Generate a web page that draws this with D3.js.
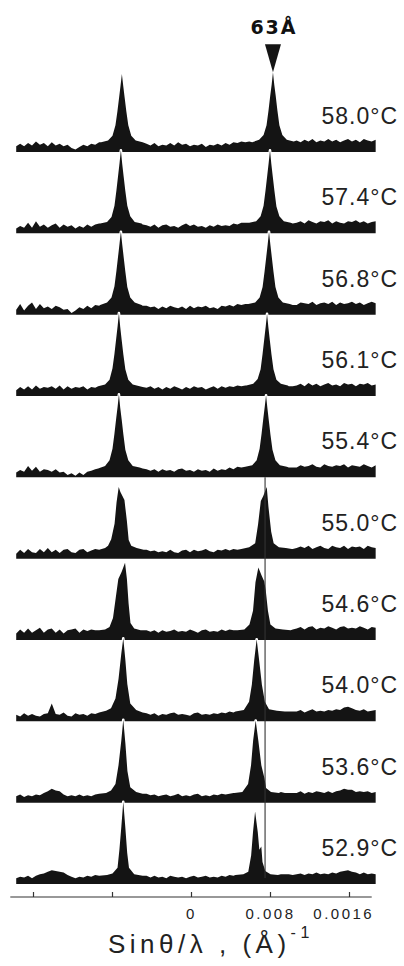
<!DOCTYPE html>
<html>
<head>
<meta charset="utf-8">
<script src="https://cdn.jsdelivr.net/npm/d3@7"></script>
<style>
  body { margin: 0; background: #fff; }
  svg { display: block; }
  .temp { font-family: "Liberation Sans", Arial, sans-serif; font-size: 23px; letter-spacing: 1px; fill: #222; }
  .marker-label { font-family: "DejaVu Sans", sans-serif; font-weight: bold; font-size: 19px; letter-spacing: 2px; fill: #111; }
  .x.axis text { font-family: "Liberation Sans", Arial, sans-serif; font-size: 15px; letter-spacing: 2.5px; fill: #222; }
  .x.axis line { stroke: #333; stroke-width: 1.2; }
  .axis-title { font-family: "Liberation Sans", Arial, sans-serif; font-size: 26px; letter-spacing: 4.5px; fill: #222; }
</style>
</head>
<body>
<div id="chart"></div>
<script>
/* scattering profiles, one row per temperature; q in units of 1e-4 (1/A) */
var temps = ["58.0°C", "57.4°C", "56.8°C", "56.1°C", "55.4°C", "55.0°C", "54.6°C", "54.0°C", "53.6°C", "52.9°C"];

// axis ticks as printed on the figure
var tickVals = [-160, -80, 0, 80, 160];
var tickLabels = ["", "", "0", "0.008", "0.0016"];
var axisExtent = [-183, 183];

// 63 A reflection marker and the reference line drawn through the lower rows
var markerLabel = "63Å";
var markerRow = 0;
var refLineQ = 75;
var refLineRows = [4, 9];

// background sampled every 4 units from -177 to 187
var qGrid = d3.range(-177, 188, 4);

var band58_0 = [7,10,7,11,8,13,9,11,7,12,8,10,7,9,5,3,6,9,7,10,9,12, 12,12,13,13,14,14,13,13,12,12,11, 10,8,11,7,9,8,11,8,12,9,10,7,9,8,10,6,9,8,10,8,11,9,12,11,13, 12,13,13,14,14,15,15,15,14,14,13,13,13, 14,12,15,13,16,12,14,13,16,13,15,12,14,16,13,15,12,16,14,13,15];
var band57_4 = [6,9,7,13,7,15,8,11,7,10,12,7,11,8,10,6,9,7,11,8,11,12, 12,13,13,14,14,14,13,13,12,12,11, 10,8,11,7,10,11,8,9,7,10,12,9,11,8,9,7,10,8,11,9,10,9,12,11,13, 13,13,14,14,15,15,15,15,14,14,13,13,12, 13,15,12,16,14,12,15,14,16,12,15,13,12,15,14,16,13,15,12,14,15];
var band56_8 = [6,13,5,11,15,7,13,8,10,7,11,9,6,7,2,5,9,7,11,8,12,11, 12,12,13,14,14,14,13,13,12,12,11, 11,9,10,7,10,8,11,9,8,10,7,11,8,10,9,11,8,9,7,11,10,12,10,13,12, 13,14,14,15,15,15,15,14,14,13,13,13,12, 12,15,14,13,16,12,14,15,13,16,12,15,13,14,16,13,15,12,14,16,14];
var band56_1 = [7,11,8,12,8,13,9,11,10,12,9,13,8,12,9,11,10,12,8,11,10,13, 12,13,13,14,14,14,13,13,12,11,11, 10,12,9,11,8,11,9,12,10,8,11,9,12,10,11,8,10,12,9,12,10,12,11,13,12, 13,13,14,14,15,15,15,14,14,13,13,12,12, 13,15,12,16,13,15,12,14,16,13,14,12,16,14,15,12,15,14,16,13,14];
var band55_4 = [6,9,7,14,8,13,7,10,9,7,10,6,7,3,5,2,6,3,7,8,10,11, 12,12,13,14,14,14,13,13,12,12,11, 10,8,10,7,10,8,9,7,10,11,8,9,7,10,8,9,7,11,8,10,9,12,10,13,12, 13,13,14,14,15,15,15,14,14,13,13,12,12, 12,15,13,14,16,13,12,16,14,13,15,14,16,12,15,14,13,16,14,12,15];
var band55_0 = [6,11,7,12,8,7,12,8,13,8,11,7,11,12,8,7,11,12,8,10,12,11, 12,12,13,13,14,14,13,13,12,12,11, 11,9,10,8,9,8,11,8,7,10,11,8,11,9,10,12,9,8,11,10,12,10,12,11,13, 13,13,14,14,15,15,14,14,13,13,13,12,12, 13,15,13,16,12,14,16,13,12,16,14,13,16,12,15,14,15,12,16,14,13];
var band54_6 = [8,13,9,14,9,12,15,9,13,14,9,13,8,12,13,14,9,13,11,13,12,14, 13,13,14,14,15,15,14,14,13,13,12, 12,10,12,9,12,10,11,13,10,11,10,13,11,9,12,13,10,11,10,13,11,13,12,14,13, 13,14,14,15,15,15,15,14,14,14,13,13,13, 14,16,13,16,17,13,15,14,17,15,13,16,17,14,15,14,17,15,13,16,15];
var band54_0 = [8,6,10,7,9,7,6,9,10,22,9,8,11,7,6,10,8,9,7,10,9,12, 12,12,13,13,14,14,13,13,12,12,11, 10,8,10,7,9,8,10,11,8,9,8,7,10,11,8,9,8,10,9,11,10,12,11,12,13, 12,13,13,14,14,14,14,14,13,13,13,12,12, 12,14,11,13,15,12,13,12,14,13,15,14,17,18,16,14,13,15,12,13,14];
var band53_6 = [8,10,7,9,8,10,9,12,14,17,15,14,10,8,9,8,10,8,9,8,10,12, 12,12,13,13,14,14,13,13,12,12,11, 11,9,10,8,9,10,8,9,11,8,9,8,10,11,8,9,8,10,9,11,10,11,12,12,13, 12,13,13,14,14,14,14,14,13,13,12,12,12, 12,14,11,13,12,14,13,12,14,12,14,15,17,16,16,13,14,13,14,12,13];
var band52_9 = [7,9,8,10,7,10,12,13,15,17,16,15,14,11,9,7,9,8,10,9,11,12, 11,12,12,13,13,13,13,12,12,11,11, 10,8,10,8,9,7,10,9,8,9,7,9,10,8,9,10,8,9,8,10,9,11,10,12,11, 12,12,13,13,14,14,14,13,13,12,12,12,11, 12,13,11,13,12,14,12,13,12,14,13,15,16,17,15,14,12,14,12,13,12];

// peaks read point by point: [q, intensity]
var peakL58_0 = [[-91,12],[-84,14],[-79.5,20],[-76.5,33],[-74.5,50],[-72.8,67],[-71.3,82],[-70,96],[-68.7,82],[-67.2,67],[-65.5,50],[-63.5,33],[-60.5,20],[-56,14],[-49,12]];
var peakR58_0 = [[62,12],[69,15],[73.5,21],[76.5,33],[78.5,51],[80.2,69],[81.7,83],[83,98],[84.3,83],[85.8,69],[87.5,51],[89.5,33],[92.5,21],[97,15],[104,13]];
var peakL57_4 = [[-92,12],[-85,14],[-80.5,20],[-77.5,34],[-75.5,53],[-73.8,71],[-72.3,87],[-71,102],[-69.7,86],[-68.2,70],[-66.5,52],[-64.5,34],[-61.5,21],[-57,14],[-50,12]];
var peakR57_4 = [[59,13],[66,15],[70.5,21],[73.5,34],[75.5,53],[77.2,71],[78.7,87],[80,102],[81.3,86],[82.8,70],[84.5,52],[86.5,33],[89.5,21],[94,15],[101,13]];
var peakL56_8 = [[-92,12],[-85,15],[-80.5,21],[-77.5,35],[-75.5,54],[-73.8,72],[-72.3,88],[-71,102],[-69.7,87],[-68.2,71],[-66.5,53],[-64.5,34],[-61.5,21],[-57,15],[-50,12]];
var peakR56_8 = [[58,13],[65,15],[69.5,21],[72.5,34],[74.5,53],[76.2,71],[77.7,87],[79,102],[80.3,87],[81.8,71],[83.5,53],[85.5,34],[88.5,21],[93,15],[100,13]];
var peakL56_1 = [[-94,12],[-87,14],[-82.5,20],[-79.5,34],[-77.5,52],[-75.8,70],[-74.3,86],[-73,102],[-71.7,85],[-70.2,69],[-68.5,51],[-66.5,33],[-63.5,20],[-59,14],[-52,12]];
var peakR56_1 = [[56,13],[63,15],[67.5,21],[70.5,33],[72.5,52],[74.2,70],[75.7,86],[77,101],[78.3,85],[79.8,69],[81.5,51],[83.5,33],[86.5,20],[91,15],[98,13]];
var peakL55_4 = [[-94,11],[-87,14],[-82.5,21],[-79.5,35],[-77.5,54],[-75.8,72],[-74.3,87],[-73,102],[-71.7,86],[-70.2,71],[-68.5,53],[-66.5,34],[-63.5,21],[-59,14],[-52,12]];
var peakR55_4 = [[55,13],[62,15],[66.5,21],[69.5,35],[71.5,54],[73.2,72],[74.7,87],[76,101],[77.3,86],[78.8,70],[80.5,52],[82.5,34],[85.5,21],[90,15],[97,13]];
var peakL55_0 = [[-93,11],[-87,13],[-84,16],[-80.8,24],[-77.4,43],[-75.4,69],[-73.2,88],[-71.5,82],[-70.2,79],[-67.4,72],[-64.9,46],[-63.1,23],[-60.5,16],[-55,13],[-48,11]];
var peakR55_0 = [[51,12],[58.9,14],[65,19],[67.9,42],[70.7,71],[73.2,77],[76.7,88],[78.4,64],[81.2,33],[83.7,19],[89,14],[96,13],[102,12]];
var peakL54_6 = [[-93,12],[-87,13],[-82.5,16],[-79,27],[-76.2,52],[-73.6,75],[-70.2,84],[-66.8,95],[-64.9,75],[-63.2,45],[-61.3,21],[-57.5,14],[-51,12]];
var peakR54_6 = [[47,12],[54,13],[59.2,19],[62.8,36],[65.3,71],[68.2,89],[71.6,79],[74.2,72],[75.7,61],[77.9,36],[80.4,19],[85.6,14],[93,13],[101,12]];
var peakL54_0 = [[-93,11],[-86,13],[-81,16],[-76.5,28],[-73.4,52],[-70.6,83],[-68.6,102],[-66.5,76],[-64.5,46],[-61.5,22],[-55.5,14],[-49,11]];
var peakR54_0 = [[45,12],[53.5,14],[58.8,24],[61.6,45],[64,75],[66.5,101],[69,75],[71.8,45],[74.8,24],[79,15],[87,13],[95,12]];
var peakL53_6 = [[-93,11],[-86,12],[-81,15],[-76.5,23],[-73.4,46],[-70.6,76],[-68.6,102],[-66.4,72],[-64.4,39],[-61.5,19],[-55.5,13],[-49,11]];
var peakR53_6 = [[44,12],[52,13],[57.8,23],[60.8,46],[62.9,76],[65.5,101],[68.2,76],[71.2,46],[74.4,30],[76,18],[81,13],[89,12]];
var peakL52_9 = [[-93,10],[-85,11],[-79.5,13],[-74.4,20],[-72.5,42],[-70.5,71],[-68.6,101],[-66.6,71],[-64.6,38],[-62.8,20],[-57.5,12],[-49,10]];
var peakR52_9 = [[45,11],[53,12],[58,15],[60.9,35],[62.8,64],[64.9,89],[67.6,64],[69.2,42],[71.2,46],[72.4,27],[75.2,16],[80.5,12],[88,11]];

var bands = [band58_0, band57_4, band56_8, band56_1, band55_4, band55_0, band54_6, band54_0, band53_6, band52_9];
var leftPeaks = [peakL58_0, peakL57_4, peakL56_8, peakL56_1, peakL55_4, peakL55_0, peakL54_6, peakL54_0, peakL53_6, peakL52_9];
var rightPeaks = [peakR58_0, peakR57_4, peakR56_8, peakR56_1, peakR55_4, peakR55_0, peakR54_6, peakR54_0, peakR53_6, peakR52_9];

// merge the background samples with the peak points of one row
function buildSeries(i) {
	var left = leftPeaks[i], right = rightPeaks[i];
	var lo1 = left[0][0], hi1 = left[left.length - 1][0];
	var lo2 = right[0][0], hi2 = right[right.length - 1][0];
	var pts = [];
	qGrid.forEach(function(q, k) {
		if ((q >= lo1 && q <= hi1) || (q >= lo2 && q <= hi2)) return;
		pts.push([q, bands[i][k]]);
	});
	pts = pts.concat(left, right);
	pts.sort(function(a, b) { return a[0] - b[0]; });
	return pts;
}

function drawChart() {
	var width = 404, height = 966;

	var svg = d3.select("#chart").append("svg")
	    .attr("width", width)
	    .attr("height", height);

	var xScale = d3.scaleLinear()
	    .domain([-160, 160])
	    .range([33, 349]);

	// baseline of each row
	var rowScale = d3.scalePoint()
	    .domain(temps)
	    .range([152, 884]);

	var rowStep = rowScale.step();

	var yScale = d3.scaleLinear()
	    .domain([0, 100])
	    .range([0, rowStep]);

	var area = d3.area()
	    .x(function(d) { return xScale(d[0]); })
	    .y0(0)
	    .y1(function(d) { return -yScale(d[1]); })
	    .curve(d3.curveLinear);

	var rows = temps.map(function(t, i) { return { label: t, values: buildSeries(i) }; });

	var row = svg.selectAll(".row")
	    .data(rows)
	  .enter().append("g")
	    .attr("class", "row")
	    .attr("transform", function(d) { return "translate(0," + rowScale(d.label) + ")"; });

	// white halo so a peak cuts a small notch into the trace above it
	row.append("path")
	    .attr("d", function(d) { return area(d.values); })
	    .attr("fill", "#141414")
	    .attr("stroke", "#fff")
	    .attr("stroke-width", 2.6)
	    .attr("stroke-linejoin", "round")
	    .attr("paint-order", "stroke");

	row.append("text")
	    .attr("class", "temp")
	    .attr("x", 398)
	    .attr("y", -28)
	    .attr("text-anchor", "end")
	    .text(function(d) { return d.label; });

	// reference line through the lower rows
	svg.append("line")
	    .attr("x1", xScale(refLineQ))
	    .attr("x2", xScale(refLineQ))
	    .attr("y1", rowScale(temps[refLineRows[0]]))
	    .attr("y2", rowScale(temps[refLineRows[1]]) - 6)
	    .attr("stroke", "#333")
	    .attr("stroke-width", 1.1);

	// 63 A marker above the first row's outer peak
	var mPeak = rightPeaks[markerRow];
	var mTop = mPeak.reduce(function(a, b) { return b[1] > a[1] ? b : a; });
	var mx = xScale(mTop[0]);
	var my = rowScale(temps[markerRow]) - yScale(mTop[1]);
	svg.append("path")
	    .attr("d", "M" + (mx - 8) + "," + (my - 28) + "L" + (mx + 8) + "," + (my - 28) + "L" + mx + "," + my + "Z")
	    .attr("fill", "#141414");

	svg.append("text")
	    .attr("class", "marker-label")
	    .attr("x", mx + 1)
	    .attr("y", 34)
	    .attr("text-anchor", "middle")
	    .text(markerLabel);

	// x axis, ticks pointing up
	var axisY = 897;
	var gx = svg.append("g")
	    .attr("class", "x axis")
	    .attr("transform", "translate(0," + axisY + ")")
	    .call(d3.axisBottom(xScale)
	        .tickValues(tickVals)
	        .tickSizeInner(-5)
	        .tickSizeOuter(0)
	        .tickPadding(11)
	        .tickFormat(function(d, i) { return tickLabels[i]; }));
	gx.select(".domain").remove();
	gx.append("line")
	    .attr("x1", xScale(axisExtent[0]))
	    .attr("x2", xScale(axisExtent[1]))
	    .attr("stroke", "#333")
	    .attr("stroke-width", 1.2);
	// the last label is set flush with the end of the axis line
	gx.selectAll(".tick text")
	    .filter(function(d, i) { return i === tickVals.length - 1; })
	    .attr("text-anchor", "end")
	    .attr("x", xScale(axisExtent[1]) - xScale(tickVals[tickVals.length - 1]) + 2);

	var title = svg.append("text")
	    .attr("class", "axis-title")
	    .attr("x", 108)
	    .attr("y", 953);
	title.append("tspan").text("Sinθ/λ , (Å)");
	title.append("tspan")
	    .attr("dy", -15)
	    .attr("font-size", "16px")
	    .attr("dx", 0)
	    .text("-1");
}

drawChart();
</script>
</body>
</html>
